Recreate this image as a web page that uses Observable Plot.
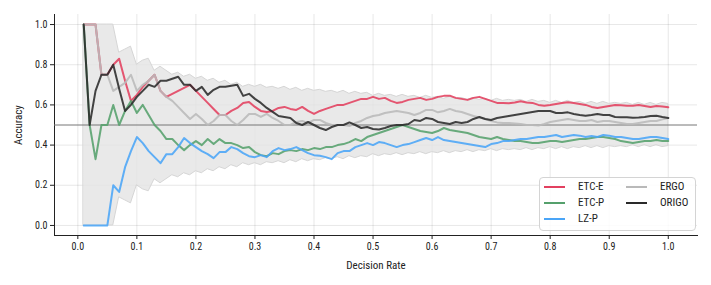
<!DOCTYPE html>
<html><head><meta charset="utf-8">
<script src="https://cdn.jsdelivr.net/npm/d3@7"></script>
<script src="https://cdn.jsdelivr.net/npm/@observablehq/plot@0.6"></script>
<style>
body{margin:0;background:#fff;}
#wrap{position:relative;width:711px;height:285px;font-family:"Liberation Sans Narrow","Roboto Condensed",Roboto,sans-serif;}
#legend{position:absolute;left:539px;top:177px;width:157px;height:54px;border:1px solid #d4d4d4;border-radius:4px;background:rgba(255,255,255,0.85);box-sizing:border-box;font-size:11px;color:#222;}
.item{position:absolute;display:flex;align-items:center;height:14px;line-height:14px;}
.sw{width:21px;height:2px;margin-right:13px;}
#wrap svg [aria-label="x-axis label"] text,#wrap svg [aria-label="y-axis label"] text{font-size:11px;}
</style></head><body><div id="wrap"></div>
<script>
const decisionRate = [0.01,0.02,0.03,0.04,0.05,0.06,0.07,0.08,0.09,0.10,
0.11,0.12,0.13,0.14,0.15,0.16,0.17,0.18,0.19,0.20,
0.21,0.22,0.23,0.24,0.25,0.26,0.27,0.28,0.29,0.30,
0.31,0.32,0.33,0.34,0.35,0.36,0.37,0.38,0.39,0.40,
0.41,0.42,0.43,0.44,0.45,0.46,0.47,0.48,0.49,0.50,
0.51,0.52,0.53,0.54,0.55,0.56,0.57,0.58,0.59,0.60,
0.61,0.62,0.63,0.64,0.65,0.66,0.67,0.68,0.69,0.70,
0.71,0.72,0.73,0.74,0.75,0.76,0.77,0.78,0.79,0.80,
0.81,0.82,0.83,0.84,0.85,0.86,0.87,0.88,0.89,0.90,
0.91,0.92,0.93,0.94,0.95,0.96,0.97,0.98,0.99,1.00];

const etcE = [1,1,1,0.75,0.75,0.8,0.83,0.72,0.62,0.65,
0.69,0.72,0.75,0.67,0.64,0.655,0.67,0.685,0.7,0.67,
0.64,0.61,0.58,0.55,0.55,0.57,0.585,0.61,0.615,0.59,
0.57,0.565,0.57,0.585,0.59,0.58,0.575,0.59,0.57,0.555,
0.57,0.58,0.59,0.6,0.6,0.61,0.62,0.63,0.63,0.64,
0.63,0.635,0.62,0.61,0.615,0.625,0.63,0.635,0.625,0.63,
0.64,0.645,0.646,0.635,0.63,0.625,0.635,0.64,0.63,0.62,
0.61,0.61,0.608,0.612,0.618,0.612,0.61,0.6,0.596,0.6,
0.605,0.61,0.613,0.61,0.605,0.6,0.59,0.585,0.59,0.595,
0.6,0.598,0.596,0.596,0.6,0.595,0.59,0.595,0.592,0.588];

const etcP = [1,0.5,0.33,0.5,0.5,0.6,0.5,0.57,0.62,0.56,
0.6,0.55,0.5,0.47,0.43,0.43,0.4,0.375,0.4,0.42,
0.4,0.43,0.405,0.43,0.41,0.41,0.4,0.385,0.39,0.365,
0.35,0.345,0.36,0.355,0.37,0.375,0.37,0.38,0.375,0.385,
0.38,0.39,0.39,0.4,0.405,0.415,0.43,0.42,0.44,0.45,
0.46,0.47,0.48,0.49,0.5,0.49,0.48,0.47,0.465,0.46,
0.47,0.485,0.475,0.47,0.465,0.46,0.45,0.44,0.435,0.43,
0.44,0.43,0.425,0.42,0.42,0.415,0.41,0.41,0.415,0.42,
0.42,0.415,0.42,0.425,0.43,0.43,0.435,0.44,0.44,0.435,
0.43,0.42,0.415,0.41,0.415,0.42,0.42,0.425,0.42,0.42];

const lzP = [0,0,0,0,0,0.2,0.167,0.29,0.37,0.44,
0.41,0.37,0.34,0.31,0.355,0.355,0.39,0.435,0.41,0.39,
0.37,0.355,0.335,0.365,0.365,0.39,0.38,0.36,0.345,0.34,
0.35,0.34,0.37,0.385,0.375,0.38,0.39,0.375,0.36,0.35,
0.347,0.34,0.33,0.36,0.37,0.37,0.39,0.4,0.41,0.4,
0.415,0.41,0.4,0.39,0.4,0.405,0.415,0.425,0.435,0.425,
0.44,0.425,0.42,0.415,0.41,0.405,0.4,0.395,0.39,0.405,
0.41,0.42,0.42,0.425,0.43,0.43,0.435,0.44,0.44,0.445,
0.45,0.44,0.445,0.45,0.447,0.44,0.445,0.44,0.45,0.447,
0.44,0.44,0.435,0.43,0.43,0.435,0.44,0.44,0.435,0.43];

const ergo = [1,1,1,0.75,0.75,0.67,0.69,0.71,0.75,0.67,
0.7,0.72,0.75,0.67,0.64,0.62,0.59,0.56,0.53,0.555,
0.53,0.5,0.52,0.55,0.55,0.52,0.5,0.525,0.555,0.555,
0.54,0.555,0.535,0.52,0.5,0.5,0.515,0.52,0.51,0.525,
0.525,0.51,0.5,0.5,0.5,0.495,0.51,0.52,0.535,0.545,
0.55,0.56,0.565,0.57,0.565,0.56,0.55,0.56,0.575,0.575,
0.563,0.57,0.58,0.57,0.565,0.555,0.545,0.538,0.53,0.52,
0.513,0.51,0.51,0.508,0.505,0.5,0.5,0.497,0.505,0.515,
0.52,0.525,0.53,0.525,0.52,0.52,0.525,0.515,0.52,0.52,
0.515,0.51,0.505,0.505,0.51,0.515,0.52,0.52,0.528,0.535];

const origo = [1,0.5,0.67,0.75,0.75,0.8,0.68,0.57,0.6,0.64,
0.67,0.7,0.69,0.72,0.72,0.73,0.74,0.7,0.7,0.67,
0.69,0.65,0.675,0.69,0.69,0.695,0.7,0.645,0.655,0.63,
0.61,0.585,0.565,0.545,0.54,0.535,0.51,0.5,0.515,0.5,
0.485,0.475,0.49,0.5,0.5,0.513,0.5,0.485,0.49,0.48,
0.478,0.485,0.495,0.5,0.5,0.505,0.525,0.52,0.535,0.53,
0.515,0.51,0.505,0.515,0.51,0.515,0.53,0.54,0.53,0.525,
0.535,0.54,0.545,0.55,0.555,0.56,0.565,0.57,0.57,0.57,
0.56,0.56,0.563,0.555,0.55,0.546,0.55,0.555,0.55,0.55,
0.54,0.538,0.538,0.536,0.537,0.54,0.545,0.546,0.54,0.535];

const bandHigh = [1,1,1,1,1,1,0.86,0.875,0.89,0.8,
0.82,0.83,0.77,0.79,0.77,0.75,0.76,0.74,0.75,0.73,
0.74,0.72,0.73,0.71,0.72,0.7,0.71,0.69,0.7,0.69,
0.7,0.685,0.69,0.68,0.69,0.675,0.685,0.67,0.68,0.67,
0.675,0.665,0.67,0.66,0.67,0.655,0.665,0.655,0.66,0.645,
0.655,0.645,0.65,0.64,0.65,0.64,0.645,0.635,0.645,0.635,
0.64,0.63,0.64,0.63,0.635,0.625,0.635,0.625,0.63,0.62,
0.63,0.62,0.625,0.62,0.625,0.615,0.625,0.615,0.62,0.61,
0.62,0.61,0.62,0.61,0.615,0.605,0.615,0.605,0.615,0.605,
0.61,0.605,0.61,0.6,0.61,0.6,0.61,0.6,0.61,0.605];

const bandLow = [0,0,0,0,0,0,0.14,0.125,0.11,0.2,
0.18,0.17,0.23,0.21,0.23,0.25,0.24,0.26,0.25,0.27,
0.26,0.28,0.27,0.29,0.28,0.3,0.29,0.31,0.3,0.31,
0.3,0.315,0.31,0.32,0.31,0.325,0.315,0.33,0.32,0.33,
0.325,0.335,0.33,0.34,0.33,0.345,0.335,0.345,0.34,0.355,
0.345,0.355,0.35,0.36,0.35,0.36,0.355,0.365,0.355,0.365,
0.36,0.37,0.36,0.37,0.365,0.375,0.365,0.375,0.37,0.38,
0.37,0.38,0.375,0.38,0.375,0.385,0.375,0.385,0.38,0.39,
0.38,0.39,0.38,0.39,0.385,0.395,0.385,0.395,0.385,0.395,
0.39,0.395,0.39,0.4,0.39,0.4,0.39,0.4,0.39,0.395];

const chanceLevel = [0.5];
const seriesNames = ["ETC-E","ETC-P","LZ-P","ERGO","ORIGO"];
const seriesValues = [etcE, etcP, lzP, ergo, origo];
const seriesColors = ["#e2405f","#55a06c","#4aa5f7","#b9b9b9","#2a2a2a"];
const xTicks = [0,0.1,0.2,0.3,0.4,0.5,0.6,0.7,0.8,0.9,1.0];
const yTicks = [0,0.2,0.4,0.6,0.8,1.0];

const rows = [];
seriesNames.forEach((name, s) => seriesValues[s].forEach((v, i) => rows.push({rate: decisionRate[i], value: v, method: name})));
const band = decisionRate.map((r, i) => ({rate: r, low: bandLow[i], high: bandHigh[i]}));

const fontFamily = '"Liberation Sans Narrow","Roboto Condensed",Roboto,sans-serif';
const chart = Plot.plot({
  width: 711, height: 285,
  marginLeft: 54, marginRight: 14, marginTop: 14, marginBottom: 50,
  style: {fontFamily, fontSize: "10px", color: "#222", background: "white"},
  x: {domain: [-0.0395, 1.0495], ticks: xTicks, tickFormat: d3.format(".1f"), label: "Decision Rate",
      labelAnchor: "center", labelOffset: 33, labelArrow: "none", tickSize: 4, tickPadding: 3, grid: true, line: true},
  y: {domain: [-0.05, 1.05], ticks: yTicks, tickFormat: d3.format(".1f"), label: "Accuracy",
      labelAnchor: "center", labelOffset: 40, labelArrow: "none", tickSize: 4, tickPadding: 3, grid: true, line: true},
  color: {domain: seriesNames, range: seriesColors},
  marks: [
    Plot.areaY(band, {x: "rate", y1: "low", y2: "high", fill: "#e4e4e4", fillOpacity: 0.8, stroke: "#d6d6d6", strokeWidth: 1}),
    Plot.ruleY(chanceLevel, {stroke: "#777", strokeWidth: 1}),
    Plot.line(rows, {x: "rate", y: "value", z: "method", stroke: "method", strokeWidth: 2, strokeOpacity: 0.88})
  ]
});
const wrap = document.getElementById("wrap");
wrap.appendChild(chart);

const legend = document.createElement("div");
legend.id = "legend";
const cols = [[0,1,2],[3,4]];
const colLeft = [4, 86];
const rowTop = [2, 18, 34];
cols.forEach((col, c) => col.forEach((idx, r) => {
  const it = document.createElement("div");
  it.className = "item";
  it.style.left = colLeft[c] + "px";
  it.style.top = rowTop[r] + "px";
  const sw = document.createElement("div");
  sw.className = "sw";
  sw.style.background = seriesColors[idx];
  const lab = document.createElement("span");
  lab.textContent = seriesNames[idx];
  it.appendChild(sw); it.appendChild(lab);
  legend.appendChild(it);
}));
wrap.appendChild(legend);
</script>
</body></html>
